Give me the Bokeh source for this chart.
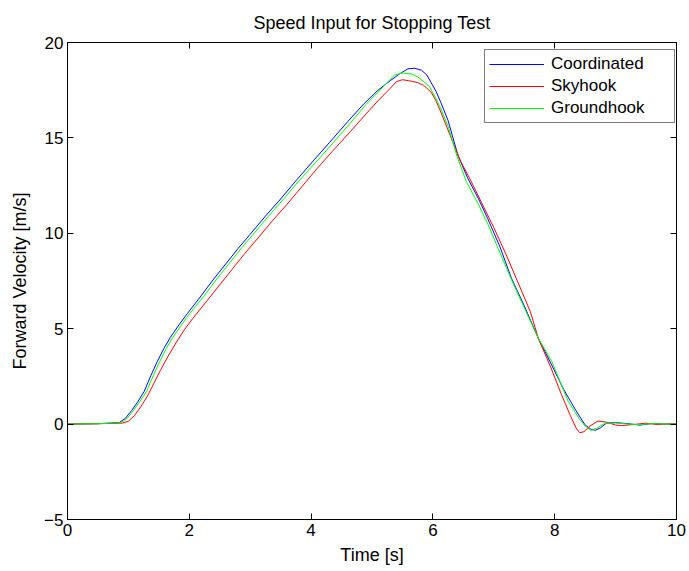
from bokeh.plotting import figure
from bokeh.models import LinearAxis, FixedTicker, Legend, LegendItem, Range1d
from bokeh.embed import file_html
from bokeh.resources import INLINE

# ---- data ----
t_coord = [0, 0.5, 0.85, 0.95, 1.05, 1.15, 1.26, 1.37, 1.47, 1.58, 1.69, 1.83, 1.97, 2.2, 2.4,
           2.6, 2.8, 3.0, 3.25, 3.5, 3.75, 4.05, 4.3, 4.6, 4.87, 5.1, 5.3, 5.45, 5.59, 5.7,
           5.81, 5.9, 5.97, 6.05, 6.13, 6.25, 6.41, 6.57, 6.75, 6.9, 7.1, 7.29, 7.5, 7.73,
           7.95, 8.15, 8.35, 8.5, 8.6, 8.67, 8.75, 8.85, 9.0, 9.2, 9.4, 9.6, 9.8, 10]
v_coord = [0, 0.02, 0.08, 0.3, 0.7, 1.15, 1.72, 2.55, 3.25, 3.95, 4.55, 5.2, 5.8, 6.75, 7.6,
           8.4, 9.2, 9.95, 10.9, 11.8, 12.75, 13.85, 14.75, 15.85, 16.8, 17.5, 18.0, 18.35, 18.62, 18.65,
           18.55, 18.3, 17.9, 17.45, 16.86, 15.9, 14.1, 12.9, 11.8, 10.77, 9.3, 7.64, 6.2, 4.5,
           3.1, 1.8, 0.7, -0.05, -0.28, -0.32, -0.2, 0.05, 0.08, 0.02, -0.05, 0.03, 0.0, 0.0]

t_sky = [0, 0.5, 0.9, 1.0, 1.1, 1.2, 1.31, 1.42, 1.53, 1.65, 1.78, 1.92, 2.06, 2.3, 2.5,
         2.7, 2.9, 3.1, 3.35, 3.6, 3.85, 4.1, 4.35, 4.65, 4.9, 5.1, 5.3, 5.4, 5.5, 5.6,
         5.75, 5.85, 5.97, 6.05, 6.15, 6.3, 6.45, 6.6, 6.8, 7.0, 7.2, 7.4, 7.6, 7.73, 7.94,
         8.11, 8.25, 8.35, 8.41, 8.48, 8.58, 8.71, 8.85, 9.0, 9.1, 9.3, 9.5, 9.7, 9.9, 10]
v_sky = [0, 0.02, 0.05, 0.15, 0.45, 0.9, 1.45, 2.15, 2.85, 3.55, 4.25, 4.95, 5.55, 6.5, 7.3,
         8.1, 8.9, 9.65, 10.6, 11.5, 12.45, 13.4, 14.3, 15.35, 16.25, 16.95, 17.6, 17.95, 18.05, 18.0,
         17.9, 17.75, 17.4, 16.95, 16.2, 15.0, 13.8, 12.9, 11.6, 10.3, 8.9, 7.4, 5.9, 4.5, 2.94,
         1.55, 0.5, -0.2, -0.45, -0.4, -0.1, 0.16, 0.1, -0.05, -0.08, -0.02, 0.05, -0.03, 0.02, 0.0]

t_ground = [0, 0.5, 0.88, 0.98, 1.08, 1.18, 1.3, 1.41, 1.51, 1.62, 1.73, 1.87, 2.01, 2.25, 2.45,
            2.65, 2.85, 3.05, 3.3, 3.55, 3.8, 4.1, 4.35, 4.65, 4.9, 5.1, 5.25, 5.37, 5.5, 5.65,
            5.75, 5.85, 5.94, 6.02, 6.12, 6.25, 6.4, 6.55, 6.75, 6.9, 7.1, 7.3, 7.5, 7.73, 7.95,
            8.22, 8.4, 8.5, 8.6, 8.7, 8.82, 9.0, 9.2, 9.4, 9.6, 9.8, 10]
v_ground = [0, 0.02, 0.07, 0.3, 0.7, 1.15, 1.72, 2.55, 3.25, 3.95, 4.55, 5.2, 5.8, 6.75, 7.6,
            8.4, 9.2, 9.95, 10.9, 11.8, 12.75, 13.8, 14.7, 15.8, 16.75, 17.4, 17.9, 18.3, 18.4, 18.35,
            18.2, 17.95, 17.7, 17.25, 16.6, 15.6, 14.0, 12.7, 11.5, 10.5, 9.0, 7.5, 6.1, 4.5, 3.3,
            1.2, 0.3, -0.1, -0.33, -0.2, 0.04, 0.06, 0.0, -0.03, 0.03, 0.0, 0.0]

x_ticks = [0, 2, 4, 6, 8, 10]
y_ticks = [-5, 0, 5, 10, 15, 20]
series_names = ["Coordinated", "Skyhook", "Groundhook"]
series_colors = ["#0000ff", "#ff0000", "#00ff00"]

FONT = "Liberation Sans"
FS = "17px"

p = figure(width=689, height=571, output_backend="svg", toolbar_location=None,
           x_range=Range1d(0, 10), y_range=Range1d(-5, 20),
           min_border_left=67, min_border_right=13, min_border_top=41, min_border_bottom=52,
           x_axis_location=None, y_axis_location=None)
p.title.text = "Speed Input for Stopping Test"
p.title.align = "center"
p.title.text_font = FONT
p.title.text_font_size = "18px"
p.title.text_font_style = "normal"
p.title.text_color = "black"
p.title.text_line_height = 0.6
p.title.standoff = 20
p.grid.visible = False
p.outline_line_color = "black"
p.outline_line_width = 1
p.background_fill_color = "white"
p.border_fill_color = "white"


def make_axis(ticks, label=None, show_labels=True):
    ax = LinearAxis(ticker=FixedTicker(ticks=ticks))
    ax.major_tick_in = 6
    ax.major_tick_out = 0
    ax.minor_tick_line_color = None
    ax.axis_line_color = "black"
    ax.major_tick_line_color = "black"
    ax.major_label_text_font = FONT
    ax.major_label_text_font_size = FS
    ax.major_label_text_color = "black" if show_labels else None
    ax.major_label_standoff = 4 if show_labels else 0
    if label:
        ax.axis_label = label
        ax.axis_label_text_font = FONT
        ax.axis_label_text_font_size = "18px"
        ax.axis_label_text_font_style = "normal"
        ax.axis_label_text_color = "black"
        ax.axis_label_standoff = 6
    return ax


xb = make_axis(x_ticks, "Time [s]")
yl = make_axis(y_ticks, "Forward Velocity [m/s]")
yl.axis_label_standoff = 11
yl.major_label_overrides = {-5: "\u22125"}
xt = make_axis(x_ticks, None, False)
yr = make_axis(y_ticks, None, False)
p.add_layout(xb, "below")
p.add_layout(yl, "left")
p.add_layout(xt, "above")
p.add_layout(yr, "right")

r1 = p.line(t_coord, v_coord, line_color=series_colors[0], line_width=1)
r2 = p.line(t_sky, v_sky, line_color=series_colors[1], line_width=1)
r3 = p.line(t_ground, v_ground, line_color=series_colors[2], line_width=1)

legend = Legend(items=[LegendItem(label=series_names[0], renderers=[r1]),
                       LegendItem(label=series_names[1], renderers=[r2]),
                       LegendItem(label=series_names[2], renderers=[r3])],
                location=(417, 396))
legend.label_text_font = FONT
legend.label_text_font_size = FS
legend.label_text_color = "black"
legend.glyph_width = 55
legend.glyph_height = 20
legend.label_height = 20
legend.label_width = 119
legend.label_standoff = 7
legend.spacing = 2
legend.padding = 4
legend.margin = 0
legend.border_line_color = "black"
legend.border_line_width = 1
legend.background_fill_color = "white"
legend.background_fill_alpha = 1
p.add_layout(legend, "center")

open("out.html", "w").write(file_html(p, INLINE))
